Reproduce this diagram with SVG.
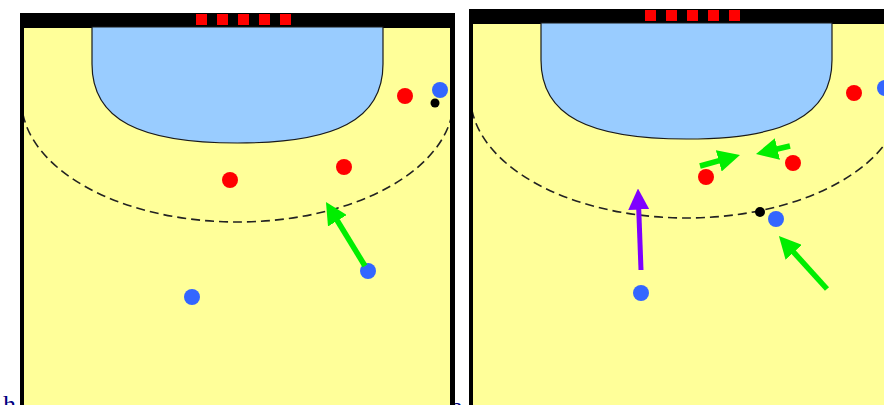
<svg xmlns="http://www.w3.org/2000/svg" width="884" height="405" viewBox="0 0 884 405">
  <style>
    .frame { fill: #000; }
    .floor { fill: #ffff99; }
    .goal-area { fill: #99ccff; stroke: #1a1a1a; stroke-width: 1.2; }
    .post { fill: #ff0000; }
    .nine-m { fill: none; stroke: #222; stroke-width: 1.6; stroke-dasharray: 9 5; }
    .red { fill: #ff0000; }
    .blue { fill: #3366ff; }
    .ball { fill: #000; }
    .move { fill: none; stroke: #00ee00; stroke-width: 5.5; marker-end: url(#head-green); }
    .run { fill: none; stroke: #7f00ff; stroke-width: 5; marker-end: url(#head-purple); }
    .caption { font-family: "Liberation Serif", serif; font-size: 26px; fill: #000080; }
  </style>
  <defs>
    <clipPath id="floor-clip" clipPathUnits="userSpaceOnUse">
      <rect x="24" y="28" width="426" height="390"/>
    </clipPath>
    <marker id="head-green" viewBox="0 0 22 22" refX="10" refY="11" markerWidth="22" markerHeight="22" markerUnits="userSpaceOnUse" orient="auto">
      <path d="M0,0 L22,11 L0,22 Z" fill="#00ee00"/>
    </marker>
    <marker id="head-purple" viewBox="0 0 22 22" refX="10" refY="11" markerWidth="21" markerHeight="21" markerUnits="userSpaceOnUse" orient="auto">
      <path d="M0,0 L22,11 L0,22 Z" fill="#7f00ff"/>
    </marker>
    <!-- one half court: frame, floor, 6 m area, posts and 9 m line -->
    <g id="half-court">
      <rect class="frame" x="20" y="13" width="435" height="410"/>
      <rect class="floor" x="24" y="28" width="426" height="395"/>
      <path class="goal-area" d="M92,27 V64 C92,120 140,143 237.5,143 C335,143 383,120 383,64 V27 Z"/>
      <rect class="post" x="196" y="14" width="11" height="11"/>
      <rect class="post" x="217" y="14" width="11" height="11"/>
      <rect class="post" x="238" y="14" width="11" height="11"/>
      <rect class="post" x="259" y="14" width="11" height="11"/>
      <rect class="post" x="280" y="14" width="11" height="11"/>
      <path class="nine-m" d="M21.5,100 A216,122 0 0 0 453.5,100" clip-path="url(#floor-clip)"/>
    </g>
  </defs>

  <!-- captions partly hidden behind the courts -->
  <text class="caption" x="3" y="413">h</text>
  <text class="caption" x="451" y="415">a</text>

  <g id="court-left">
    <use href="#half-court"/>
  </g>
  <g id="court-right">
    <use href="#half-court" transform="translate(449,-4)"/>
  </g>

  <!-- left court players -->
  <g id="l-red-wing"><circle class="red" cx="405" cy="96" r="8"/></g>
  <g id="l-blue-wing"><circle class="blue" cx="440" cy="90" r="8"/></g>
  <g id="l-ball"><circle class="ball" cx="435" cy="103" r="4.5"/></g>
  <g id="l-red-left"><circle class="red" cx="230" cy="180" r="8"/></g>
  <g id="l-red-right"><circle class="red" cx="344" cy="167" r="8"/></g>
  <g id="l-blue-back"><circle class="blue" cx="368" cy="271" r="8"/></g>
  <g id="l-blue-centre"><circle class="blue" cx="192" cy="297" r="8"/></g>

  <!-- right court players -->
  <g id="r-red-wing"><circle class="red" cx="854" cy="93" r="8"/></g>
  <g id="r-blue-wing"><circle class="blue" cx="885" cy="88" r="8"/></g>
  <g id="r-red-left"><circle class="red" cx="706" cy="177" r="8"/></g>
  <g id="r-red-right"><circle class="red" cx="793" cy="163" r="8"/></g>
  <g id="r-ball"><circle class="ball" cx="760" cy="212" r="5"/></g>
  <g id="r-blue-back"><circle class="blue" cx="776" cy="219" r="8"/></g>
  <g id="r-blue-centre"><circle class="blue" cx="641" cy="293" r="8"/></g>

  <g id="connectors">
    <line class="move" x1="365" y1="266" x2="332.2" y2="212.2"/>
    <line class="move" x1="700" y1="166" x2="728.4" y2="158.2"/>
    <line class="move" x1="790" y1="146" x2="767.7" y2="151.3"/>
    <line class="move" x1="827" y1="289" x2="787" y2="244.9"/>
    <line class="run" x1="641" y1="270" x2="638.4" y2="200"/>
  </g>
</svg>
